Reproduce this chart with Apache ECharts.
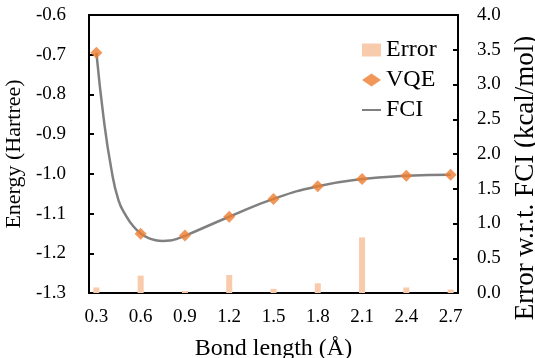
<!DOCTYPE html>
<html>
<head>
<meta charset="utf-8">
<script src="https://cdn.jsdelivr.net/npm/echarts@6/dist/echarts.min.js"></script>
<style>
  html, body { margin: 0; padding: 0; background: #fff; }
  #chart { width: 535px; height: 358px; }
</style>
</head>
<body>
<div id="chart"></div>
<script>
// bond lengths (Å) of the computed points
var bondLengths = [0.3, 0.6, 0.9, 1.2, 1.5, 1.8, 2.1, 2.4, 2.7];
var vqeEnergy = [-0.695, -1.151, -1.155, -1.108, -1.063, -1.031, -1.013, -1.005, -1.002];
var errorKcal = [0.08, 0.25, 0.03, 0.26, 0.06, 0.14, 0.80, 0.08, 0.05];

// FCI curve
var fciBond = [0.3, 0.35, 0.4, 0.45, 0.5, 0.55, 0.6, 0.65, 0.7, 0.75, 0.8, 0.85, 0.9, 1.2, 1.5, 1.8, 2.1, 2.4, 2.7];
var fciEnergy = [-0.695, -0.862, -0.985, -1.067, -1.105, -1.132, -1.150, -1.161, -1.167, -1.169, -1.168, -1.163, -1.156, -1.108, -1.063, -1.031, -1.013, -1.005, -1.002];

var xTicks = [0.3, 0.6, 0.9, 1.2, 1.5, 1.8, 2.1, 2.4, 2.7];

var font = "'Liberation Serif', 'DejaVu Serif', serif";

function pairs(xs, ys) {
  return xs.map(function (x, i) { return [x, ys[i]]; });
}

var chart = echarts.init(document.getElementById('chart'));

var option = {
  animation: false,
  textStyle: { fontFamily: font, color: '#000' },
  grid: {
    left: 89,
    right: 77,
    top: 15,
    bottom: 65,
    outerBoundsMode: 'none',
    containLabel: false,
    show: true,
    borderColor: '#000',
    borderWidth: 2
  },
  legend: {
    orient: 'vertical',
    left: 356,
    top: 33,
    itemGap: 6,
    itemWidth: 19,
    itemHeight: 13,
    textStyle: { fontFamily: font, fontSize: 24, color: '#000' },
    data: [
      { name: 'Error', icon: 'rect' },
      { name: 'VQE', icon: 'diamond' },
      { name: 'FCI', itemStyle: { opacity: 0 } }
    ]
  },
  xAxis: {
    type: 'value',
    min: 0.25,
    max: 2.75,
    name: 'Bond length (Å)',
    nameLocation: 'middle',
    nameGap: 44,
    nameTextStyle: { fontFamily: font, fontSize: 24, color: '#000' },
    axisLine: { lineStyle: { color: '#000', width: 2 } },
    axisTick: { show: false },
    splitLine: { show: false },
    axisLabel: {
      customValues: xTicks,
      fontFamily: font,
      fontSize: 19,
      color: '#000',
      margin: 15,
      formatter: function (v) { return v.toFixed(1); }
    }
  },
  yAxis: [
    {
      type: 'value',
      min: -1.3,
      max: -0.6,
      interval: 0.1,
      name: 'Energy (Hartree)',
      nameLocation: 'middle',
      nameGap: 57,
      nameTextStyle: { fontFamily: font, fontSize: 22, color: '#000' },
      axisLine: { show: true, lineStyle: { color: '#000', width: 2 } },
      axisTick: { show: true, inside: true, length: 5, lineStyle: { color: '#000', width: 2 } },
      splitLine: { show: false },
      axisLabel: {
        fontFamily: font,
        fontSize: 19,
        color: '#000',
        margin: 23,
        formatter: function (v) { return v.toFixed(1); }
      }
    },
    {
      type: 'value',
      position: 'right',
      min: 0,
      max: 4,
      interval: 0.5,
      name: 'Error w.r.t. FCI (kcal/mol)',
      nameLocation: 'middle',
      nameGap: 54,
      nameRotate: 90,
      nameTextStyle: { fontFamily: font, fontSize: 27, color: '#000', padding: [0, 48, 0, 0] },
      axisLine: { show: true, lineStyle: { color: '#000', width: 2 } },
      axisTick: { show: true, inside: true, length: 5, lineStyle: { color: '#000', width: 2 } },
      splitLine: { show: false },
      axisLabel: {
        fontFamily: font,
        fontSize: 19,
        color: '#000',
        margin: 19,
        formatter: function (v) { return v.toFixed(1); }
      }
    }
  ],
  series: [
    {
      name: 'Error',
      type: 'bar',
      yAxisIndex: 1,
      barWidth: 6,
      itemStyle: { color: '#F8CBAD' },
      z: 1,
      data: pairs(bondLengths, errorKcal)
    },
    {
      name: 'FCI',
      type: 'line',
      yAxisIndex: 0,
      smooth: 0.5,
      symbol: 'none',
      lineStyle: { color: '#808080', width: 2.5 },
      itemStyle: { color: '#808080' },
      z: 2,
      data: pairs(fciBond, fciEnergy)
    },
    {
      name: 'VQE',
      type: 'scatter',
      yAxisIndex: 0,
      symbol: 'diamond',
      symbolSize: 12,
      itemStyle: { color: '#ED7D31' },
      z: 3,
      data: pairs(bondLengths, vqeEnergy)
    }
  ]
};

chart.setOption(option);
</script>
</body>
</html>
